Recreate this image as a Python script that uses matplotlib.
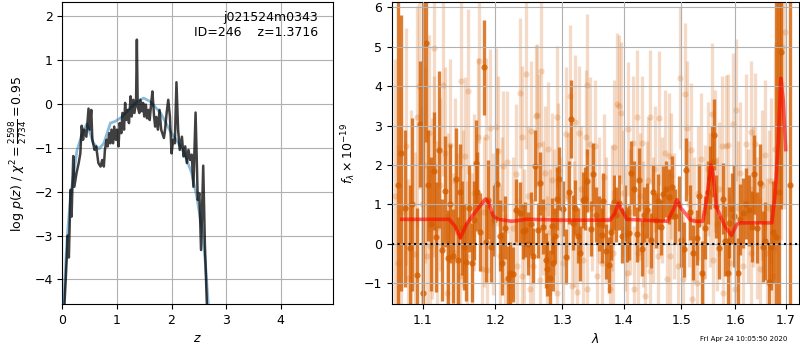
import matplotlib
matplotlib.use('Agg')
import matplotlib.pyplot as plt
from matplotlib.ticker import FixedLocator, FixedFormatter, NullLocator

# ---------------- data: redshift PDF (left panel) ----------------
z_grid = [0.03, 0.04, 0.07, 0.10, 0.12, 0.15, 0.17, 0.20, 0.22, 0.26,
          0.30, 0.33, 0.355, 0.38, 0.40, 0.44, 0.48, 0.50, 0.53, 0.55,
          0.59, 0.62, 0.66, 0.70, 0.73, 0.76, 0.78, 0.81, 0.83, 0.86,
          0.88, 0.90, 0.93, 0.95, 0.98, 1.00, 1.03, 1.05, 1.08, 1.10,
          1.13, 1.15, 1.17, 1.20, 1.22, 1.25, 1.27, 1.30, 1.32, 1.35,
          1.365, 1.38, 1.41, 1.43, 1.46, 1.48, 1.50, 1.53, 1.55, 1.58,
          1.60, 1.63, 1.65, 1.68, 1.70, 1.72, 1.75, 1.78, 1.81, 1.86,
          1.88, 1.91, 1.94, 1.97, 2.00, 2.03, 2.06, 2.09, 2.12, 2.15,
          2.19, 2.22, 2.25, 2.28, 2.31, 2.34, 2.37, 2.40, 2.44, 2.48,
          2.51, 2.54, 2.58, 2.61, 2.65]
logpz = [-4.7, -4.55, -3.8, -3.0, -3.5, -1.96, -2.57, -1.19, -1.89, -1.58,
         -1.35, -1.13, -0.5, -0.82, -0.59, -0.75, -0.11, -0.59, -0.14, -0.82,
         -1.05, -0.97, -1.35, -1.43, -1.28, -1.43, -1.05, -0.82, -0.97, -0.67,
         -0.9, -0.59, -0.9, -0.52, -0.82, -0.59, -0.97, -0.44, -0.67, -0.21,
         -0.59, 0.02, -0.37, -0.14, -0.44, 0.17, -0.29, 0.09, -0.21, 0.05,
         1.46, -0.06, -0.21, 0.09, -0.17, 0.02, -0.29, -0.02, -0.33, -0.14,
         -0.37, 0.05, 0.28, -0.29, -0.52, -0.3, -0.59, -0.14, -0.59, -0.78,
         -0.6, -0.21, 0.09, -0.29, -1.13, -0.82, -0.9, 0.49, -0.59, -1.05,
         -0.75, -1.2, -0.97, -1.35, -1.05, -1.28, -1.16, -1.89, -0.2, -2.19,
         -2.04, -3.33, -1.41, -3.18, -4.7]

z_smooth = [0.02, 0.08, 0.15, 0.27, 0.39, 0.45, 0.57, 0.67, 0.76, 0.88,
            0.97, 1.09, 1.19, 1.37, 1.49, 1.61, 1.80, 1.98, 2.10, 2.22,
            2.37, 2.46, 2.56, 2.62, 2.68]
logpz_smooth = [-4.7, -3.2, -2.1, -1.05, -0.59, -0.46, -0.9, -1.03, -0.9, -0.44,
                -0.4, -0.3, -0.17, 0.05, 0.13, 0.05, -0.21, -0.63, -0.85, -1.09,
                -1.58, -2.1, -2.87, -3.63, -4.7]

z_ticks = [0, 1, 2, 3, 4]
pz_ticks = [-4, -3, -2, -1, 0, 1, 2]

# ---------------- data: spectrum (right panel) ----------------
wave_bin = [1.0679, 1.0713, 1.0765, 1.0830, 1.0860, 1.0925, 1.0960, 1.1004, 1.1035, 1.1070,
            1.1110, 1.1146, 1.1180, 1.1217, 1.1260, 1.1300, 1.1330, 1.1368, 1.1407, 1.1450,
            1.1474, 1.1500, 1.1530, 1.1556, 1.1590, 1.1630, 1.1670, 1.1700, 1.1720, 1.1740,
            1.1780, 1.1835, 1.1868, 1.1897, 1.1940, 1.1985, 1.2027, 1.2065, 1.2100, 1.2135,
            1.2175, 1.2210, 1.2255, 1.2306, 1.2365, 1.2397, 1.2430, 1.2475, 1.2518, 1.2555,
            1.2588, 1.2636, 1.2660, 1.2709, 1.2753, 1.2773, 1.2805, 1.2836, 1.2853, 1.2890,
            1.2925, 1.2957, 1.3010, 1.3060, 1.3103, 1.3144, 1.3175, 1.3210, 1.3245, 1.3279,
            1.3326, 1.3360, 1.3400, 1.3450, 1.3485, 1.3540, 1.3584, 1.3632, 1.3657, 1.3700,
            1.3760, 1.3790, 1.3830, 1.3873, 1.3920, 1.3970, 1.4017, 1.4057, 1.4090, 1.4125,
            1.4170, 1.4215, 1.4260, 1.4300, 1.4340, 1.4400, 1.4457, 1.4500, 1.4550, 1.4590,
            1.4630, 1.4677, 1.4723, 1.4784, 1.4830, 1.4890, 1.4962, 1.5000, 1.5046, 1.5088,
            1.5155, 1.5215, 1.5280, 1.5320, 1.5370, 1.5435, 1.5490, 1.5520, 1.5570, 1.5597,
            1.5645, 1.5697, 1.5760, 1.5800, 1.5855, 1.5890, 1.5938, 1.5977, 1.6058, 1.6100,
            1.6157, 1.6210, 1.6270, 1.6326, 1.6370, 1.6430, 1.6480, 1.6537, 1.6590, 1.6656,
            1.6710, 1.6750, 1.6800, 1.6865, 1.6906, 1.7087]
flux_bin = [1.50, 2.30, 0.90, -0.10, 1.00, -0.80, 3.05, -1.24, 5.09, 1.48,
            0.50, 1.84, 0.17, 2.39, -0.16, 1.33, -0.35, 1.02, -0.31, 1.65,
            -0.42, 1.32, 0.40, -0.08, -0.46, 0.90, -0.48, 0.60, 2.05, 1.32,
            0.30, 4.48, 0.04, 1.12, -0.07, 0.60, 1.52, 0.20, -0.50, 0.41,
            -0.86, -0.75, -0.78, 0.85, 0.78, 0.32, 0.36, 0.00, 0.51, -0.30,
            1.98, 0.34, 1.53, 0.43, -0.42, -0.63, -0.86, 0.45, -0.50, 0.20,
            1.14, 1.65, 0.89, -0.33, 1.31, 3.17, 0.53, 0.91, 0.20, -0.24,
            1.11, 1.14, 1.60, 0.38, 1.76, 0.74, 0.51, 0.22, 1.09, -0.19,
            -0.54, 0.30, 1.05, 0.74, 1.04, 0.20, 0.78, 0.24, 0.28, 1.80,
            1.40, 0.24, 1.62, -0.13, 0.74, 0.85, 0.09, 1.31, 0.60, 1.08,
            0.42, 1.27, 1.39, 1.19, 1.44, 0.70, 1.02, 0.10, -0.14, 1.88,
            0.80, -0.23, 0.15, 1.22, -0.73, 0.41, 1.31, 1.67, 2.08, 2.77,
            0.95, -0.10, 1.14, 0.07, -0.75, 0.53, 0.89, 0.70, -0.75, 0.62,
            0.78, 1.02, 0.85, 0.43, 1.76, 0.41, 1.53, -0.08, 0.07, -0.97,
            -0.08, 0.30, 0.18, 1.31, 4.88, 1.50]
err_bin = [8.0, 3.5, 2.0, 1.6, 2.2, 1.7, 1.6, 8.0, 2.5, 1.4,
           1.7, 1.5, 1.4, 2.0, 1.3, 1.4, 1.2, 1.5, 1.2, 1.3,
           1.1, 1.2, 1.2, 1.1, 1.0, 1.1, 1.0, 1.0, 1.1, 1.0,
           1.0, 1.2, 1.0, 1.0, 0.9, 0.9, 0.9, 0.9, 0.8, 0.8,
           0.8, 0.8, 0.7, 0.8, 0.8, 0.7, 0.7, 0.8, 0.8, 0.7,
           0.9, 0.7, 0.8, 0.7, 0.7, 0.7, 0.7, 0.7, 0.7, 0.7,
           0.8, 0.8, 0.7, 0.7, 0.8, 1.0, 0.7, 0.7, 0.7, 0.7,
           0.7, 0.8, 0.8, 0.7, 0.8, 0.7, 0.7, 0.7, 0.7, 0.7,
           0.7, 0.7, 0.7, 0.7, 0.7, 0.7, 0.7, 0.7, 0.7, 0.8,
           0.7, 0.7, 0.8, 0.7, 0.7, 0.7, 0.7, 0.7, 0.7, 0.7,
           0.7, 0.7, 0.7, 0.7, 0.8, 0.7, 0.7, 0.7, 0.7, 0.8,
           0.7, 0.7, 0.7, 0.8, 0.8, 0.8, 0.8, 0.8, 0.9, 0.9,
           0.8, 0.8, 0.9, 0.9, 0.9, 0.9, 0.9, 1.3, 0.9, 0.9,
           0.9, 0.9, 0.9, 0.9, 1.0, 0.9, 1.0, 0.9, 1.0, 1.0,
           1.1, 1.3, 8.0, 8.0, 4.0, 10.0]

wave_raw = [1.0640, 1.0680, 1.0720, 1.0777, 1.0809, 1.0850, 1.0896, 1.0925, 1.0952, 1.0990,
            1.1030, 1.1049, 1.1079, 1.1093, 1.1120, 1.1142, 1.1150, 1.1190, 1.1230, 1.1271,
            1.1294, 1.1317, 1.1340, 1.1365, 1.1400, 1.1430, 1.1465, 1.1500, 1.1512, 1.1540,
            1.1571, 1.1600, 1.1617, 1.1663, 1.1700, 1.1746, 1.1768, 1.1804, 1.1830, 1.1864,
            1.1876, 1.1921, 1.1960, 1.2003, 1.2032, 1.2069, 1.2090, 1.2113, 1.2143, 1.2162,
            1.2211, 1.2250, 1.2294, 1.2309, 1.2353, 1.2383, 1.2388, 1.2420, 1.2447, 1.2480,
            1.2507, 1.2527, 1.2557, 1.2593, 1.2618, 1.2648, 1.2658, 1.2669, 1.2710, 1.2740,
            1.2761, 1.2777, 1.2810, 1.2842, 1.2880, 1.2914, 1.2924, 1.2940, 1.2980, 1.3017,
            1.3055, 1.3090, 1.3122, 1.3149, 1.3180, 1.3206, 1.3228, 1.3270, 1.3300, 1.3333,
            1.3377, 1.3388, 1.3393, 1.3441, 1.3480, 1.3517, 1.3550, 1.3590, 1.3631, 1.3669,
            1.3710, 1.3768, 1.3800, 1.3822, 1.3829, 1.3889, 1.3922, 1.3956, 1.3990, 1.4020,
            1.4046, 1.4071, 1.4110, 1.4158, 1.4165, 1.4215, 1.4243, 1.4270, 1.4302, 1.4330,
            1.4358, 1.4390, 1.4415, 1.4445, 1.4452, 1.4500, 1.4540, 1.4590, 1.4610, 1.4650,
            1.4707, 1.4736, 1.4784, 1.4796, 1.4819, 1.4860, 1.4944, 1.4980, 1.5034, 1.5070,
            1.5095, 1.5130, 1.5178, 1.5186, 1.5230, 1.5278, 1.5310, 1.5351, 1.5399, 1.5440,
            1.5490, 1.5530, 1.5566, 1.5585, 1.5620, 1.5660, 1.5700, 1.5748, 1.5773, 1.5818,
            1.5868, 1.5900, 1.5963, 1.5996, 1.6015, 1.6060, 1.6100, 1.6156, 1.6208, 1.6250,
            1.6300, 1.6310, 1.6350, 1.6384, 1.6430, 1.6483, 1.6530, 1.6588, 1.6616, 1.6660,
            1.6700, 1.6748, 1.6780, 1.6816, 1.6850, 1.6897, 1.6930, 1.6991]
flux_raw = [1.2, -0.5, 0.8, 2.47, -0.86, 0.6, -0.27, 3.23, 4.0, 1.0,
            2.0, -0.31, 2.8, -0.06, 0.9, 4.96, 1.97, 0.4, 1.5, 4.03,
            2.3, -1.24, 0.7, 2.5, -0.2, 1.6, 0.3, -0.82, 4.12, 0.9,
            2.24, -0.3, 3.87, -0.1, 1.3, 2.72, 4.65, -0.65, 0.8, 2.72,
            -0.67, 2.94, 0.5, 2.96, 2.35, -0.31, 0.9, 1.97, -0.95, 2.08,
            -1.07, 0.4, 1.76, -0.57, 3.82, -0.82, 2.71, 0.2, 4.31, 1.2,
            -1.16, 2.85, -0.57, 3.25, 3.27, 2.5, -0.92, 4.39, 0.9, 1.8,
            -0.4, 2.4, 0.3, 1.63, 0.8, -1.24, 3.23, 1.88, 0.6, -0.48,
            2.78, 1.2, 3.76, -1.07, 0.5, 3.1, -1.22, 2.81, 1.4, -0.4,
            2.72, -1.16, 4.03, 2.54, 0.9, 2.47, -0.82, 1.1, -0.48, 1.7,
            0.6, -1.16, 0.9, -0.23, 2.45, 3.54, 3.5, 3.32, 1.3, 0.4,
            -0.74, 2.91, 0.8, 2.56, -1.16, 3.23, -0.23, 1.2, 2.57, 0.5,
            -1.32, 1.0, 1.63, 3.22, -0.69, 0.6, 1.9, -0.31, 3.19, 1.1,
            2.3, -0.9, 2.22, -0.31, 1.71, 0.7, -0.57, 4.2, -0.9, 3.81,
            2.94, 1.0, 2.39, -1.41, 0.6, -0.99, 1.3, 2.14, -0.82, 0.8,
            1.9, 1.1, 3.3, -0.4, 2.1, 0.5, 1.4, 2.47, -1.24, 2.49,
            2.5, -0.48, 3.05, -1.16, 3.4, 0.9, 1.8, -0.57, 2.52, 0.7,
            2.83, -0.23, 1.2, 2.54, 0.4, -0.65, 1.5, 2.26, -0.23, 0.9,
            1.6, -0.82, 2.4, 5.05, 3.0, 4.09, 5.0, 5.38]
err_raw = [3.5, 3.0, 3.2, 3.0, 2.5, 2.8, 2.6, 2.8, 2.6, 2.5,
           2.5, 2.3, 2.5, 2.2, 2.3, 2.4, 2.3, 2.2, 2.2, 2.3,
           2.2, 2.0, 2.1, 2.2, 2.0, 2.1, 2.0, 1.9, 2.2, 2.0,
           2.0, 1.9, 2.1, 1.9, 2.0, 2.0, 2.1, 1.8, 1.9, 2.0,
           1.8, 2.0, 1.8, 2.0, 1.9, 1.8, 1.8, 1.9, 1.7, 1.8,
           1.7, 1.8, 1.8, 1.7, 1.9, 1.7, 1.8, 1.7, 1.9, 1.8,
           1.7, 1.8, 1.7, 1.8, 1.8, 1.8, 1.7, 1.9, 1.7, 1.7,
           1.6, 1.7, 1.6, 1.7, 1.6, 1.6, 1.8, 1.7, 1.6, 1.6,
           1.7, 1.6, 1.8, 1.6, 1.6, 1.7, 1.6, 1.7, 1.6, 1.6,
           1.7, 1.6, 1.8, 1.7, 1.6, 1.7, 1.6, 1.6, 1.6, 1.6,
           1.6, 1.6, 1.6, 1.6, 1.7, 1.8, 1.8, 1.8, 1.6, 1.6,
           1.6, 1.7, 1.6, 1.7, 1.6, 1.7, 1.6, 1.6, 1.7, 1.6,
           1.6, 1.6, 1.6, 1.7, 1.6, 1.6, 1.6, 1.6, 1.7, 1.6,
           1.6, 1.6, 1.6, 1.6, 1.6, 1.6, 1.6, 1.8, 1.6, 1.8,
           1.7, 1.6, 1.7, 1.6, 1.6, 1.6, 1.7, 1.7, 1.6, 1.7,
           1.7, 1.7, 1.8, 1.7, 1.8, 1.7, 1.7, 1.8, 1.7, 1.8,
           1.8, 1.7, 1.8, 1.7, 1.8, 1.7, 1.8, 1.7, 1.8, 1.7,
           1.8, 1.7, 1.8, 1.8, 1.8, 1.8, 1.9, 1.9, 1.9, 2.0,
           2.1, 2.2, 2.6, 3.5, 4.0, 4.0, 4.0, 4.5]

wave_model = [1.0723, 1.1353, 1.1430, 1.1505, 1.1600, 1.1740, 1.1860, 1.1900, 1.1970, 1.2040,
              1.2240, 1.2460, 1.3020, 1.3770, 1.3850, 1.3910, 1.3960, 1.4050, 1.4750, 1.4860,
              1.4920, 1.4990, 1.5170, 1.5270, 1.5390, 1.5460, 1.5540, 1.5580, 1.5640, 1.5800,
              1.5930, 1.6030, 1.6090, 1.6720, 1.6780, 1.6850, 1.6900, 1.6950, 1.7000]
flux_model = [0.62, 0.62, 0.45, 0.15, 0.53, 0.87, 1.14, 1.05, 0.70, 0.62,
              0.57, 0.62, 0.60, 0.60, 0.78, 1.02, 0.87, 0.62, 0.57, 0.87,
              1.12, 0.91, 0.60, 0.57, 0.57, 1.12, 2.00, 1.80, 0.95, 0.45,
              0.21, 0.49, 0.53, 0.53, 1.20, 2.56, 4.20, 3.65, 2.39]

wave_ticks = [1.1, 1.2, 1.3, 1.4, 1.5, 1.6, 1.7]
wave_labels = ['1.1', '1.2', '1.3', '1.4', '1.5', '1.6', '1.7']
flux_ticks = [-1, 0, 1, 2, 3, 4, 5, 6]

grism_color = (0.8353, 0.3686, 0.0)

# ---------------- figure ----------------
plt.rcParams['font.size'] = 9
fig = plt.figure(figsize=(8, 3.5), dpi=100)

ax1 = fig.add_axes([0.0779, 0.1314, 0.3388, 0.862])
ax1.plot(z_smooth, logpz_smooth, color='#1f77b4', alpha=0.5, lw=2, zorder=3)
ax1.plot(z_grid, logpz, color='k', alpha=0.75, lw=1.8, zorder=4)
ax1.set_xlim(0, 4.963)
ax1.set_ylim(-4.56, 2.31)
ax1.set_xticks(z_ticks)
ax1.set_yticks(pz_ticks)
ax1.grid(True)
ax1.set_xlabel('$z$')
ax1.set_ylabel(r'$\log\,p(z)$ / $\chi^2=\frac{2598}{2734}=0.95$')
ax1.text(0.945, 0.97, 'j021524m0343\nID=246    z=1.3716', ha='right', va='top',
         transform=ax1.transAxes, fontsize=9)

ax2 = fig.add_axes([0.4896, 0.1314, 0.5091, 0.862])
ax2.errorbar(wave_raw, flux_raw, yerr=err_raw, fmt='o', color=grism_color, alpha=0.22,
             ms=4.5, mew=0, elinewidth=2.4, zorder=1)
ax2.errorbar(wave_bin, flux_bin, yerr=err_bin, fmt='o', color=grism_color, alpha=0.8,
             ms=4.5, mew=0, elinewidth=2.4, zorder=2)
ax2.plot(wave_model, flux_model, color='r', alpha=0.6, lw=2.6, zorder=4)
ax2.axhline(0, color='k', ls=':', lw=1.5, zorder=5)
ax2.set_xscale('log')
ax2.set_xlim(1.0595, 1.7273)
ax2.set_ylim(-1.53, 6.13)
ax2.xaxis.set_major_locator(FixedLocator(wave_ticks))
ax2.xaxis.set_major_formatter(FixedFormatter(wave_labels))
ax2.xaxis.set_minor_locator(NullLocator())
ax2.set_yticks(flux_ticks)
ax2.set_axisbelow(False)
ax2.grid(True, zorder=3)
ax2.set_xlabel(r'$\lambda$')
ax2.set_ylabel(r'$f_\lambda \times 10^{-19}$')

fig.text(0.984, 0.03, 'Fri Apr 24 10:05:50 2020', ha='right', va='center', fontsize=5)

fig.savefig('out.png', dpi=100)
